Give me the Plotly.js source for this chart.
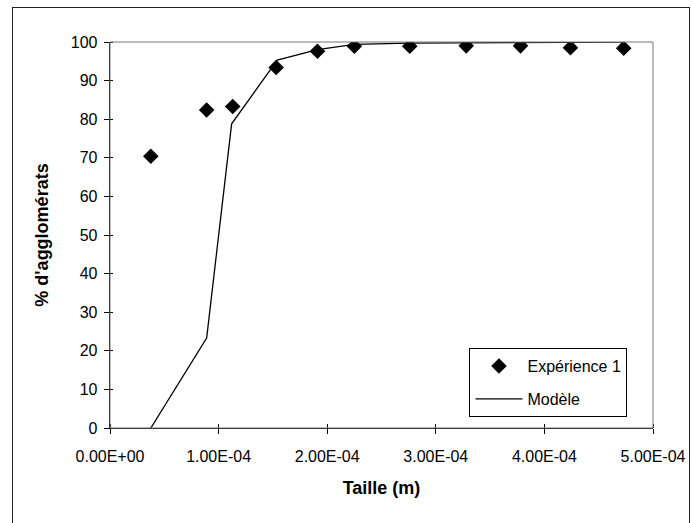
<!DOCTYPE html>
<html>
<head>
<meta charset="utf-8">
<script src="https://cdn.plot.ly/plotly-3.0.1.min.js"></script>
<style>
html,body{margin:0;padding:0;background:#fff;}
#wrap{position:relative;width:691px;height:523px;overflow:hidden;}
#chart{width:691px;height:523px;}
#frame{position:absolute;left:12px;top:7px;width:676px;height:530px;border:1px solid #222;pointer-events:none;}
</style>
</head>
<body>
<div id="wrap"><div id="chart"></div><div id="frame"></div></div>
<script>
// Experimental data
var expX = [3.76e-5, 0.89e-4, 1.13e-4, 1.53e-4, 1.91e-4, 2.25e-4, 2.76e-4, 3.28e-4, 3.78e-4, 4.24e-4, 4.73e-4];
var expY = [70.4, 82.4, 83.3, 93.4, 97.6, 98.9, 98.9, 99.0, 99.0, 98.5, 98.4];
// Model
var modX = [3.76e-5, 0.89e-4, 1.12e-4, 1.54e-4, 1.91e-4, 2.25e-4, 2.76e-4, 3.28e-4, 3.78e-4, 4.24e-4, 4.73e-4];
var modY = [0, 23.3, 78.8, 95.3, 98.0, 99.4, 99.7, 99.8, 99.9, 100, 100];
var xTickVals = [0, 1e-4, 2e-4, 3e-4, 4e-4, 5e-4];
var xTickText = ["0.00E+00", "1.00E-04", "2.00E-04", "3.00E-04", "4.00E-04", "5.00E-04"];

var fam = "Liberation Sans, Arial, sans-serif";
var font = {family: fam, size: 16, color: "#000"};
var tfont = {family: fam, size: 18, color: "#000"};

var traces = [
  {x: expX, y: expY, type: "scatter", mode: "markers", name: "Expérience 1", legendgroup: "a",
   marker: {symbol: "diamond", size: 12, color: "#000"}},
  {x: modX, y: modY, type: "scatter", mode: "lines", name: "Modèle", legendgroup: "b",
   line: {color: "#000", width: 1.3}}
];

var layout = {
  width: 691, height: 523,
  margin: {l: 110, r: 38, t: 42, b: 95},
  paper_bgcolor: "#fff", plot_bgcolor: "#fff",
  font: font,
  showlegend: true,
  xaxis: {
    range: [0, 5e-4], tickvals: xTickVals, ticktext: xTickText,
    showgrid: false, zeroline: false, showline: true, linecolor: "#000", linewidth: 1.3,
    ticks: "outside", ticklen: 5, tickcolor: "#000", ticklabelstandoff: 8,
    minor: {ticks: "inside", ticklen: 4, tickcolor: "#000", dtick: 1e-4, tick0: 0, showgrid: false},
    tickfont: font, automargin: false,
    title: {text: "<b>Taille (m)</b>", font: tfont, standoff: 18}
  },
  yaxis: {
    range: [0, 100], dtick: 10, tick0: 0,
    showgrid: false, zeroline: false, showline: true, linecolor: "#000", linewidth: 1.3,
    ticks: "outside", ticklen: 5, tickcolor: "#000", ticklabelstandoff: 3,
    minor: {ticks: "inside", ticklen: 3, tickcolor: "#000", dtick: 10, tick0: 0, showgrid: false},
    tickfont: font, automargin: false,
    title: {text: "<b>% d'agglomérats</b>", font: tfont, standoff: 17}
  },
  shapes: [
    {type: "rect", xref: "paper", yref: "paper", x0: 0, x1: 1, y0: 0, y1: 1,
     line: {color: "#777", width: 1}}
  ],
  legend: {
    x: 0.662, y: 0.207, xanchor: "left", yanchor: "top",
    bordercolor: "#000", borderwidth: 1, bgcolor: "#fff",
    font: font, traceorder: "grouped", tracegroupgap: 9, itemwidth: 47
  }
};

Plotly.newPlot("chart", traces, layout, {displayModeBar: false, staticPlot: true});
</script>
</body>
</html>
